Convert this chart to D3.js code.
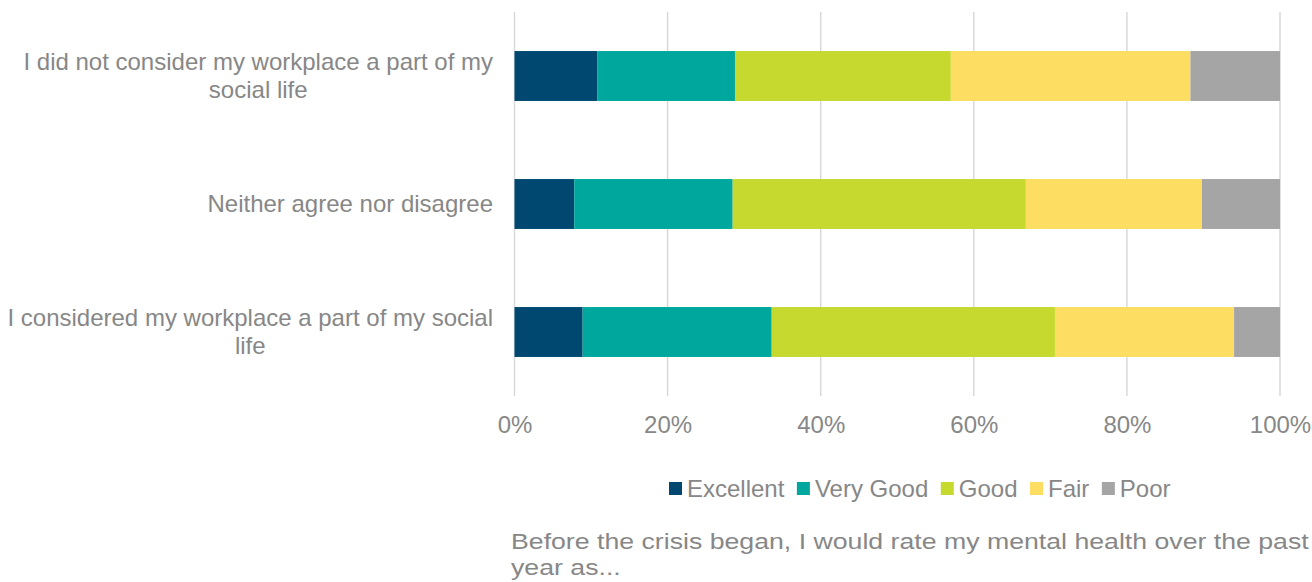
<!DOCTYPE html>
<html><head><meta charset="utf-8">
<script src="https://cdn.jsdelivr.net/npm/d3@7"></script>
<style>body{margin:0;background:#fff}svg{display:block}</style>
</head><body><svg id="c" width="1312" height="582"></svg>
<script>
const categories = ["I did not consider my workplace a part of my social life","Neither agree nor disagree","I considered my workplace a part of my social life"];
const categoryLines = [["I did not consider my workplace a part of my","social life"],["Neither agree nor disagree"],["I considered my workplace a part of my social","life"]];
const seriesNames = ["Excellent","Very Good","Good","Fair","Poor"];
const excellent = [10.8, 7.8, 8.9];
const veryGood = [18.0, 20.7, 24.7];
const good = [28.2, 38.3, 37.0];
const fair = [31.3, 23.0, 23.4];
const poor = [11.7, 10.2, 6.0];
const tickValues = [0,20,40,60,80,100];
const tickLabels = ["0%","20%","40%","60%","80%","100%"];
const colors = ["#00486F","#00A79D","#C6D92F","#FDDE63","#A5A5A5"];
const titleLines = ["Before the crisis began, I would rate my mental health over the past","year as..."];

const FONT = "Liberation Sans, Arial, sans-serif";
const TXT = "#878787";
const seriesVals = [excellent, veryGood, good, fair, poor];
const rows = categories.map((c,i)=>{const o={cat:c}; seriesNames.forEach((s,j)=>o[s]=seriesVals[j][i]); return o;});
const stack = d3.stack().keys(seriesNames)(rows);

const svg = d3.select("#c");
const x = d3.scaleLinear().domain([0,100]).range([514.5,1280]);
const y = d3.scaleBand().domain(categories).range([12,396]).paddingInner(0.61).paddingOuter(0.305);

svg.append("g").selectAll("line").data(tickValues).join("line")
  .attr("x1",d=>x(d)).attr("x2",d=>x(d)).attr("y1",12).attr("y2",396)
  .attr("stroke","#d9d9d9").attr("stroke-width",1.5);

svg.append("g").selectAll("g").data(stack).join("g").attr("fill",(d,i)=>colors[i])
  .selectAll("rect").data(d=>d).join("rect")
  .attr("x",d=>x(d[0])).attr("width",d=>x(d[1])-x(d[0]))
  .attr("y",d=>y(d.data.cat)).attr("height",y.bandwidth());

const xa = svg.append("g").attr("transform","translate(0,396)")
  .call(d3.axisBottom(x).tickValues(tickValues).tickFormat((d,i)=>tickLabels[i]).tickSize(0).tickPadding(20));
xa.select(".domain").remove();
xa.selectAll("text").attr("font-size",24).attr("fill",TXT).attr("font-family",FONT);
xa.attr("font-family",FONT).attr("font-size",24);

const lab = svg.append("g").attr("font-family",FONT).attr("font-size",24).attr("fill",TXT);
categories.forEach((c,i)=>{
  const lines = categoryLines[i];
  const cy = y(c)+y.bandwidth()/2;
  const lh = 28;
  const tmp = lab.append("text").text(lines[0]);
  const w = tmp.node().getComputedTextLength(); tmp.remove();
  const cx = 493 - w/2;
  const t = lab.append("text").attr("text-anchor","middle");
  lines.forEach((l,k)=>{
    t.append("tspan").attr("x",cx).attr("y",cy + (k-(lines.length-1)/2)*lh).attr("dy","0.35em").text(l);
  });
});

const lg = svg.append("g").attr("font-family",FONT).attr("font-size",24).attr("fill",TXT);
let lx = 669;
seriesNames.forEach((s,i)=>{
  lg.append("rect").attr("x",lx).attr("y",482).attr("width",13).attr("height",13).attr("fill",colors[i]);
  const t = lg.append("text").attr("x",lx+18).attr("y",489).attr("dy","0.35em").text(s);
  lx += 18 + t.node().getComputedTextLength() + 12.5;
});

const tt = svg.append("text").attr("font-family",FONT).attr("font-size",22.5).attr("fill",TXT);
titleLines.forEach((l,k)=>tt.append("tspan").attr("x",0).attr("y",k*26.5).text(l));
const tw = tt.select("tspan").node().getComputedTextLength();
const sx = 798/tw;
tt.attr("transform",`translate(511,549) scale(${sx},1)`);
</script></body></html>
